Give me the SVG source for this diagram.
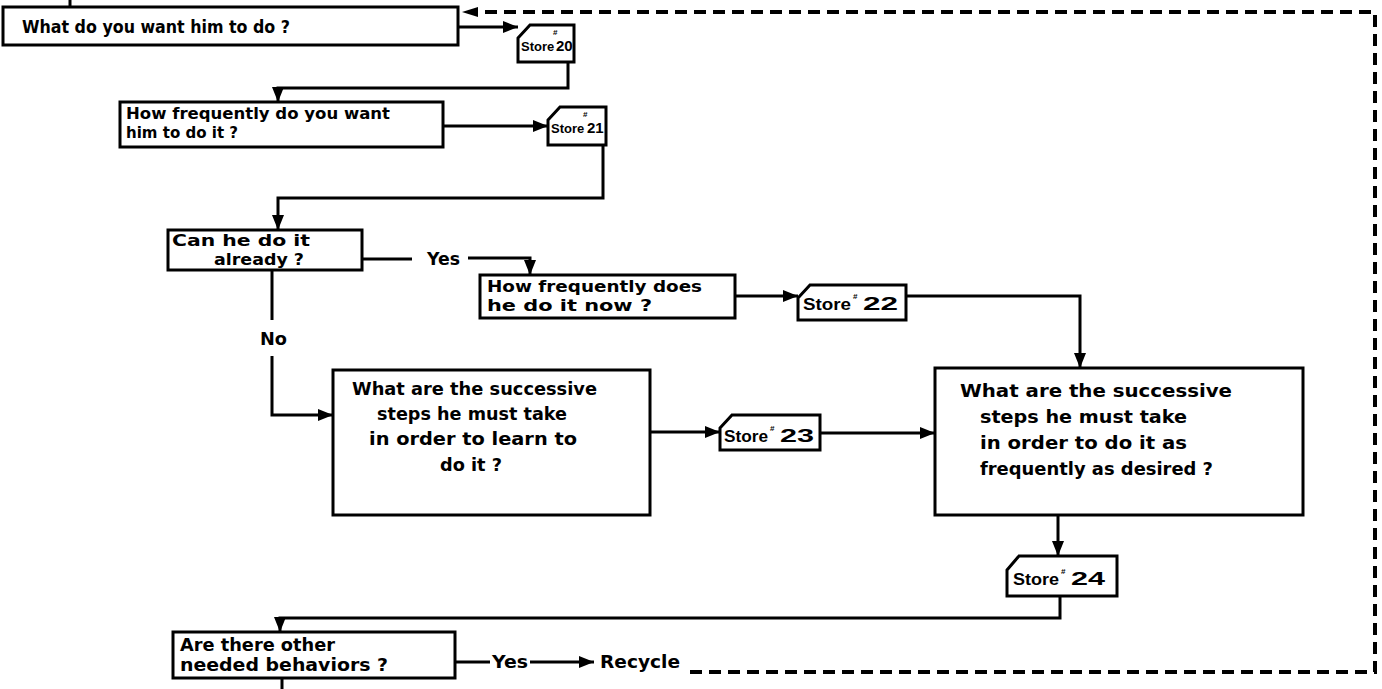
<svg xmlns="http://www.w3.org/2000/svg" width="1382" height="689" viewBox="0 0 1382 689">
<defs>
<style>
.box{fill:#fff;stroke:#000;stroke-width:3}
.ln{fill:none;stroke:#000;stroke-width:3}
.dash{fill:none;stroke:#000;stroke-width:4;stroke-dasharray:12 7}
text{font-family:"DejaVu Sans","Liberation Sans",sans-serif;font-weight:bold;font-size:17px;fill:#000}
.t16{font-size:16px}
.st{font-family:"Liberation Sans",Arial,sans-serif;font-size:16px}
.st2{font-family:"Liberation Sans",Arial,sans-serif;font-size:13px}
.num{font-family:"Liberation Sans",Arial,sans-serif;font-size:19px}
.num2{font-family:"Liberation Sans",Arial,sans-serif;font-size:15px}
.sup{font-family:"Liberation Sans",Arial,sans-serif;font-size:8px}
</style>
<marker id="ah" viewBox="0 0 10 10" refX="10" refY="5" markerWidth="5" markerHeight="5" orient="auto" markerUnits="strokeWidth">
<path d="M0,1 L10,5 L0,9 Z" fill="#000"/>
</marker>
</defs>
<rect width="1382" height="689" fill="#fff"/>
<g id="connectors">
<line class="ln" x1="70" y1="0" x2="70" y2="7"/>
<line class="ln" x1="458" y1="27" x2="518" y2="27" marker-end="url(#ah)"/>
<polyline class="ln" points="568,62 568,88 278,88 278,102" marker-end="url(#ah)"/>
<line class="ln" x1="443" y1="126" x2="548" y2="126" marker-end="url(#ah)"/>
<polyline class="ln" points="603,145 603,198 278,198 278,230" marker-end="url(#ah)"/>
<line class="ln" x1="362" y1="259" x2="412" y2="259"/>
<polyline class="ln" points="468,258 530,258 530,275" marker-end="url(#ah)"/>
<line class="ln" x1="735" y1="296" x2="798" y2="296" marker-end="url(#ah)"/>
<polyline class="ln" points="906,296 1080,296 1080,368" marker-end="url(#ah)"/>
<line class="ln" x1="272" y1="270" x2="272" y2="320"/>
<polyline class="ln" points="272,356 272,415 333,415" marker-end="url(#ah)"/>
<line class="ln" x1="650" y1="432" x2="720" y2="432" marker-end="url(#ah)"/>
<line class="ln" x1="820" y1="433" x2="935" y2="433" marker-end="url(#ah)"/>
<line class="ln" x1="1058" y1="515" x2="1058" y2="556" marker-end="url(#ah)"/>
<polyline class="ln" points="1060,596 1060,618 280,618 280,632" marker-end="url(#ah)"/>
<line class="ln" x1="455" y1="662" x2="490" y2="662"/>
<line class="ln" x1="530" y1="662" x2="594" y2="662" marker-end="url(#ah)"/>
<line class="ln" x1="282" y1="678" x2="282" y2="689"/>
<polyline class="dash" points="690,672 1375,672 1375,12 470,12"/>
<path d="M462,12 L478,7 L478,17 Z" fill="#000"/>
</g>
<g id="n1">
<rect class="box" x="3" y="7" width="455" height="38"/>
<text x="22" y="33" textLength="268" lengthAdjust="spacingAndGlyphs">What do you want him to do ?</text>
</g>
<g id="s20">
<path class="box" d="M518,38 L530,25 L574,25 L574,62 L518,62 Z"/>
<text class="st2" x="521" y="51">Store</text>
<text class="sup" x="553" y="35">#</text>
<text class="num2" x="556" y="51">20</text>
</g>
<g id="n2">
<rect class="box" x="120" y="102" width="323" height="45"/>
<text class="t16" x="126" y="119" textLength="264" lengthAdjust="spacingAndGlyphs">How frequently do you want</text>
<text class="t16" x="126" y="138" textLength="112" lengthAdjust="spacingAndGlyphs">him to do it ?</text>
</g>
<g id="s21">
<path class="box" d="M548,120 L560,107 L606,107 L606,145 L548,145 Z"/>
<text class="st2" x="551" y="133">Store</text>
<text class="sup" x="583" y="117">#</text>
<text class="num2" x="587" y="133">21</text>
</g>
<g id="n3">
<rect class="box" x="168" y="230" width="194" height="40"/>
<text class="t16" x="172" y="246" textLength="138" lengthAdjust="spacingAndGlyphs">Can he do it</text>
<text class="t16" x="214" y="265" textLength="90" lengthAdjust="spacingAndGlyphs">already ?</text>
</g>
<text x="427" y="265" textLength="33" lengthAdjust="spacingAndGlyphs">Yes</text>
<g id="n4">
<rect class="box" x="480" y="275" width="255" height="43"/>
<text class="t16" x="487" y="292" textLength="215" lengthAdjust="spacingAndGlyphs">How frequently does</text>
<text class="t16" x="487" y="311" textLength="165" lengthAdjust="spacingAndGlyphs">he do it now ?</text>
</g>
<g id="s22">
<path class="box" d="M798,298 L810,285 L906,285 L906,320 L798,320 Z"/>
<text class="st" x="803" y="310" textLength="48" lengthAdjust="spacingAndGlyphs">Store</text>
<text class="sup" x="853" y="299">#</text>
<text class="num" x="863" y="310" textLength="35" lengthAdjust="spacingAndGlyphs">22</text>
</g>
<text x="260" y="345" textLength="27" lengthAdjust="spacingAndGlyphs">No</text>
<g id="n5">
<rect class="box" x="333" y="370" width="317" height="145"/>
<text x="352" y="395" textLength="245" lengthAdjust="spacingAndGlyphs">What are the successive</text>
<text x="377" y="420" textLength="190" lengthAdjust="spacingAndGlyphs">steps he must take</text>
<text x="369" y="445" textLength="208" lengthAdjust="spacingAndGlyphs">in order to learn to</text>
<text x="440" y="471" textLength="62" lengthAdjust="spacingAndGlyphs">do it ?</text>
</g>
<g id="s23">
<path class="box" d="M720,428 L732,415 L820,415 L820,450 L720,450 Z"/>
<text class="st" x="724" y="442" textLength="44" lengthAdjust="spacingAndGlyphs">Store</text>
<text class="sup" x="770" y="431">#</text>
<text class="num" x="780" y="442" textLength="34" lengthAdjust="spacingAndGlyphs">23</text>
</g>
<g id="n6">
<rect class="box" x="935" y="368" width="368" height="147"/>
<text x="960" y="397" textLength="272" lengthAdjust="spacingAndGlyphs">What are the  successive</text>
<text x="980" y="423" textLength="207" lengthAdjust="spacingAndGlyphs">steps he must take</text>
<text x="980" y="449" textLength="207" lengthAdjust="spacingAndGlyphs">in order to do it as</text>
<text x="980" y="475" textLength="233" lengthAdjust="spacingAndGlyphs">frequently as desired ?</text>
</g>
<g id="s24">
<path class="box" d="M1007,570 L1019,556 L1117,556 L1117,596 L1007,596 Z"/>
<text class="st" x="1013" y="585" textLength="46" lengthAdjust="spacingAndGlyphs">Store</text>
<text class="sup" x="1061" y="574">#</text>
<text class="num" x="1071" y="585" textLength="34" lengthAdjust="spacingAndGlyphs">24</text>
</g>
<g id="n7">
<rect class="box" x="173" y="632" width="282" height="46"/>
<text x="180" y="651" textLength="155" lengthAdjust="spacingAndGlyphs">Are  there other</text>
<text x="180" y="671" textLength="208" lengthAdjust="spacingAndGlyphs">needed behaviors ?</text>
</g>
<text x="492" y="668" textLength="36" lengthAdjust="spacingAndGlyphs">Yes</text>
<text x="600" y="668" textLength="80" lengthAdjust="spacingAndGlyphs">Recycle</text>
</svg>
